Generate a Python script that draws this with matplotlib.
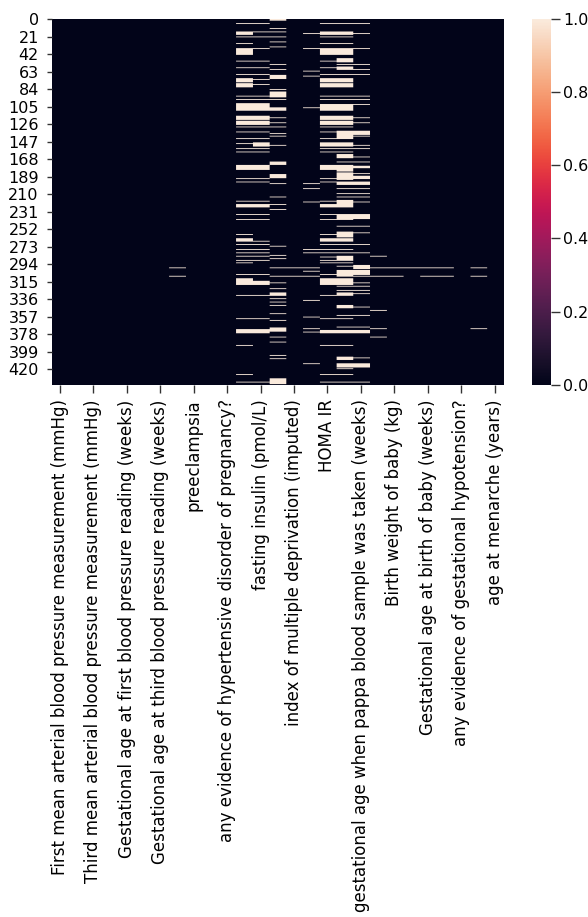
import numpy as np
import matplotlib
matplotlib.use('Agg')
import matplotlib.pyplot as plt
import seaborn as sns

n_rows = 439
n_cols = 27

# only every second column gets a label in the plot
labels = ['First mean arterial blood pressure measurement (mmHg)',
          'Third mean arterial blood pressure measurement (mmHg)',
          'Gestational age at first blood pressure reading (weeks)',
          'Gestational age at third blood pressure reading (weeks)',
          'preeclampsia',
          'any evidence of hypertensive disorder of pregnancy?',
          'fasting insulin (pmol/L)',
          'index of multiple deprivation (imputed)',
          'HOMA IR',
          'gestational age when pappa blood sample was taken (weeks)',
          'Birth weight of baby (kg)',
          'Gestational age at birth of baby (weeks)',
          'any evidence of gestational hypotension?',
          'age at menarche (years)']

# rows with a missing value, per column
missing_7 = [298, 308]
missing_11 = [5, 15, 16, 17, 18, 21, 29, 35, 36, 37, 38, 39, 40, 41, 42, 50, 58, 66, 71, 72, 73, 74, 75,
              77, 78, 79, 80, 81, 92, 96, 101, 102, 103, 104, 105, 106, 107, 108, 109,
              116, 117, 118, 119, 120, 122, 123, 124, 125, 126, 129, 135, 143, 149, 155, 159,
              175, 176, 177, 178, 179, 180, 191, 195, 218, 222, 223, 224, 225, 234, 240, 258,
              263, 264, 265, 266, 270, 276, 280, 284, 289, 292, 306,
              311, 312, 313, 314, 315, 316, 317, 318, 331, 359, 372, 373, 374, 375, 376, 391, 426, 435]
missing_12 = [5, 15, 21, 35, 50, 58, 66, 72, 78, 92, 96, 101, 102, 103, 104, 105, 106, 107, 108, 109,
              116, 117, 118, 119, 120, 122, 123, 124, 125, 126, 129, 135, 143, 148, 149, 150, 151, 152,
              155, 159, 175, 176, 177, 178, 179, 180, 191, 195, 218, 222, 223, 224, 225, 234, 240,
              266, 270, 276, 280, 284, 289, 306, 314, 315, 316, 317, 318, 331, 359,
              372, 373, 374, 375, 376, 435]
missing_13 = [0, 1, 11, 15, 21, 27, 33, 54, 60, 67, 68, 69, 70, 71, 84, 87, 88, 89, 90, 91, 92, 93, 96,
              106, 107, 108, 109, 118, 124, 129, 137, 140, 151, 171, 172, 173, 174,
              186, 187, 188, 189, 190, 197, 213, 222, 228, 272, 283, 287, 298, 308, 316, 323,
              328, 329, 330, 331, 335, 339, 343, 353, 361, 370, 371, 372, 373, 374, 381, 387, 403, 407,
              431, 432, 433, 434, 435, 436, 437]
missing_14 = [298, 308]
missing_15 = [17, 35, 62, 68, 106, 197, 203, 219, 276, 280, 298, 302, 308, 337, 357, 371, 375, 413]
missing_16 = [5, 15, 16, 17, 18, 21, 29, 35, 36, 37, 38, 39, 40, 41, 42, 50, 58, 66, 71, 72, 73, 74, 75,
              77, 78, 79, 80, 81, 92, 96, 102, 103, 104, 105, 106, 107, 108, 109,
              116, 117, 118, 119, 120, 122, 123, 124, 125, 126, 129, 135, 143, 148, 149, 150, 151, 152,
              155, 159, 175, 176, 177, 178, 179, 180, 191, 195, 218, 222, 223, 224, 225, 234, 240, 258,
              263, 264, 265, 266, 270, 276, 280, 285, 289, 292, 306,
              311, 312, 313, 314, 315, 316, 317, 318, 331, 359, 373, 374, 375, 376, 391, 426, 435]
missing_17 = [5, 15, 16, 17, 18, 21, 29, 35, 36, 37, 38, 39, 40, 41, 42, 47, 48, 49, 50, 51, 54,
              57, 58, 59, 60, 66, 71, 72, 73, 74, 75, 77, 78, 79, 80, 81, 92, 96,
              102, 103, 104, 105, 106, 107, 108, 109, 116, 117, 118, 119, 120, 122, 123, 124, 125, 126, 129,
              134, 135, 136, 137, 138, 139, 140, 141, 142, 143, 148, 149, 150, 151, 152, 155, 159,
              162, 163, 164, 165, 166, 171, 175, 176, 177, 178, 179, 180, 181, 182,
              184, 185, 186, 187, 188, 189, 190, 191, 192, 195, 196, 197, 198, 203, 209, 213,
              217, 218, 219, 220, 221, 222, 223, 224, 225, 234, 235, 236, 237, 238, 239, 240, 248,
              255, 256, 257, 258, 259, 260, 261, 263, 264, 265, 266, 270, 276, 280,
              284, 285, 286, 287, 288, 289, 292, 296, 301, 302, 303, 304, 305, 306, 307, 308,
              311, 312, 313, 314, 315, 316, 317, 318, 320, 325, 328, 329, 330, 331,
              343, 344, 345, 346, 355, 359, 369, 373, 374, 375, 376, 391,
              405, 406, 407, 408, 413, 414, 415, 416, 417, 419, 426, 435]
missing_18 = [5, 17, 35, 54, 60, 66, 92, 96, 102, 118, 124, 134, 135, 136, 137, 138, 140, 151, 155, 165, 171,
              176, 177, 178, 185, 188, 189, 190, 191, 195, 196, 197, 198, 203, 209, 213, 219,
              234, 235, 236, 237, 238, 239, 248, 256, 270, 280,
              295, 296, 297, 298, 299, 301, 302, 303, 304, 305, 306, 308, 316, 320, 325, 329, 345, 355, 369,
              373, 374, 375, 376, 406, 413, 414, 415, 416, 417, 435]
missing_19 = [284, 298, 308, 349, 371, 381]
missing_20 = [298, 308]
missing_21 = [298]
missing_22 = [298, 308]
missing_23 = [298, 308]
missing_25 = [298, 308, 371]

missing = {7: missing_7, 11: missing_11, 12: missing_12, 13: missing_13, 14: missing_14,
           15: missing_15, 16: missing_16, 17: missing_17, 18: missing_18, 19: missing_19,
           20: missing_20, 21: missing_21, 22: missing_22, 23: missing_23, 25: missing_25}

matrix = np.zeros((n_rows, n_cols))
for col, rows in missing.items():
    matrix[rows, col] = 1

W, H = 588, 917
dpi = 124  # the reference is a 72 dpi notebook figure scaled up
fig = plt.figure(figsize=(W / dpi, H / dpi), dpi=dpi)
ax = fig.add_axes([51.7 / W, 1 - 384.7 / H, 451.3 / W, 365.7 / H])
cax = fig.add_axes([532.3 / W, 1 - 384.7 / H, 18.7 / W, 365.7 / H])

# imshow instead of sns.heatmap so that one-row lines survive downsampling,
# columns repeated so the filter only softens the rows
im = ax.imshow(np.repeat(matrix, 17, axis=1), cmap='rocket', vmin=0, vmax=1, aspect='auto',
               extent=(0, n_cols, n_rows, 0), interpolation='hanning', interpolation_stage='rgba')
ax.set_xticks(np.arange(0, n_cols, 2) + 0.5)
ax.set_xticklabels(labels, rotation=90, fontsize=9.7)
ax.set_yticks(np.arange(0, n_rows, 21) + 0.5)
ax.set_yticklabels(np.arange(0, n_rows, 21), fontsize=9.3)
ax.tick_params(axis='x', length=4.5, pad=4, color='#333333')
ax.tick_params(axis='y', length=3, pad=4.5, color='#333333')
for s in ax.spines.values():
    s.set_visible(False)

cb = fig.colorbar(im, cax=cax)
cb.outline.set_visible(False)
cax.tick_params(length=5, pad=2, labelsize=9.2, color='#333333')

fig.savefig('out.png', dpi=dpi)
